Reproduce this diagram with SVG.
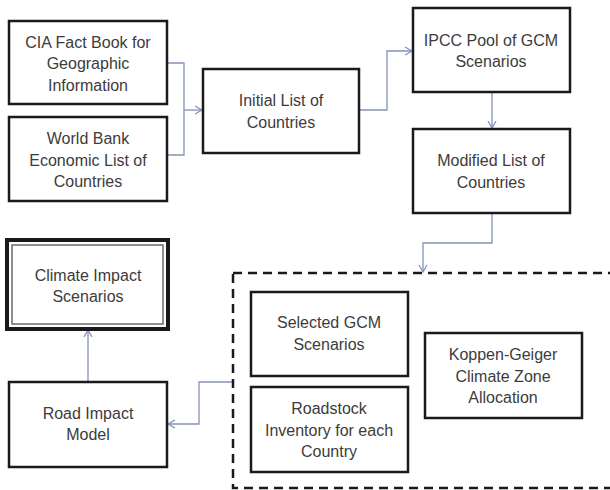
<svg xmlns="http://www.w3.org/2000/svg" width="610" height="490" viewBox="0 0 610 490">
<defs>
<style>
.box{fill:#fff;stroke:#1a1a1a;stroke-width:2.5}
.t{font-family:"Liberation Sans",Arial,sans-serif;font-size:16px;fill:#3c3c3c;text-anchor:middle}
.c{fill:none;stroke:#8592b8;stroke-width:1.3}
</style>
<marker id="a" markerWidth="10" markerHeight="10" refX="8" refY="5" orient="auto" markerUnits="userSpaceOnUse">
<path d="M1,1 L8,5 L1,9" fill="none" stroke="#8592b8" stroke-width="1.3"/>
</marker>
</defs>
<rect width="610" height="490" fill="#fff"/>
<g id="connectors">
<path class="c" d="M167,63 H184 V155 H167"/>
<path class="c" d="M184,110 H202" marker-end="url(#a)"/>
<path class="c" d="M359,110 H387 V51 H412" marker-end="url(#a)"/>
<path class="c" d="M492,92 V128" marker-end="url(#a)"/>
<path class="c" d="M492,213 V243 H423 V272" marker-end="url(#a)"/>
<path class="c" d="M233,382 H199 V424 H168" marker-end="url(#a)"/>
<path class="c" d="M88,382 V330" marker-end="url(#a)"/>
</g>
<g id="cia">
<rect class="box" x="9" y="21" width="158" height="83"/>
<text class="t" x="88" y="48">CIA Fact Book for</text>
<text class="t" x="88" y="69">Geographic</text>
<text class="t" x="88" y="91">Information</text>
</g>
<g id="worldbank">
<rect class="box" x="9" y="117" width="158" height="84"/>
<text class="t" x="88" y="144">World Bank</text>
<text class="t" x="88" y="166">Economic List of</text>
<text class="t" x="88" y="187">Countries</text>
</g>
<g id="initial">
<rect class="box" x="203" y="69" width="156" height="84"/>
<text class="t" x="281" y="106">Initial List of</text>
<text class="t" x="281" y="128">Countries</text>
</g>
<g id="ipcc">
<rect class="box" x="413" y="8" width="157" height="84"/>
<text class="t" x="491" y="46">IPCC Pool of GCM</text>
<text class="t" x="491" y="67">Scenarios</text>
</g>
<g id="modified">
<rect class="box" x="413" y="129" width="157" height="84"/>
<text class="t" x="491" y="166">Modified List of</text>
<text class="t" x="491" y="188">Countries</text>
</g>
<g id="group">
<rect x="233" y="273" width="390" height="215" fill="none" stroke="#1a1a1a" stroke-width="2.5" stroke-dasharray="9,6"/>
</g>
<g id="selected">
<rect class="box" x="251" y="292" width="157" height="84"/>
<text class="t" x="329" y="328">Selected GCM</text>
<text class="t" x="329" y="350">Scenarios</text>
</g>
<g id="roadstock">
<rect class="box" x="251" y="387" width="157" height="85"/>
<text class="t" x="329" y="414">Roadstock</text>
<text class="t" x="329" y="436">Inventory for each</text>
<text class="t" x="329" y="457">Country</text>
</g>
<g id="koppen">
<rect class="box" x="425" y="333" width="157" height="85"/>
<text class="t" x="503" y="360">Koppen-Geiger</text>
<text class="t" x="503" y="382">Climate Zone</text>
<text class="t" x="503" y="403">Allocation</text>
</g>
<g id="climate">
<rect x="7" y="240" width="161" height="89" fill="#fff" stroke="#1a1a1a" stroke-width="4"/>
<rect x="12" y="245" width="151" height="79" fill="none" stroke="#555" stroke-width="1.3"/>
<text class="t" x="88" y="281">Climate Impact</text>
<text class="t" x="88" y="302">Scenarios</text>
</g>
<g id="road">
<rect class="box" x="9" y="382" width="158" height="85"/>
<text class="t" x="88" y="419">Road Impact</text>
<text class="t" x="88" y="440">Model</text>
</g>
</svg>
